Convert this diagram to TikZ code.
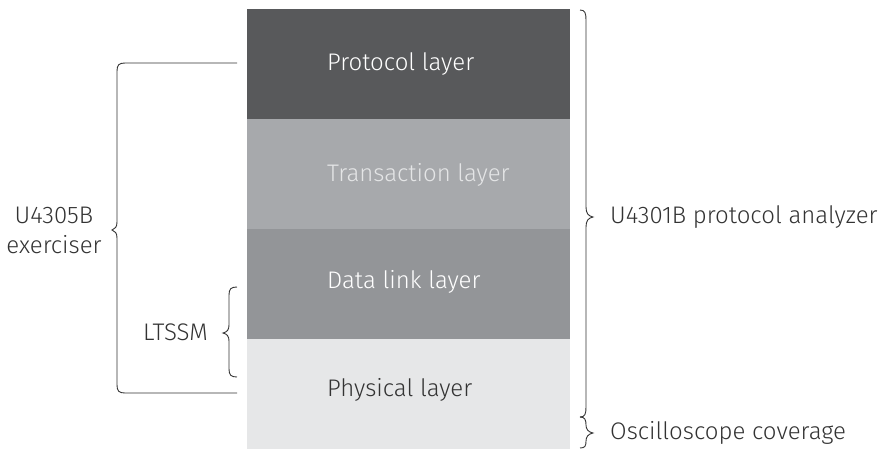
\documentclass[tikz,border=0pt]{standalone}
\usepackage{fontspec}
\setmainfont{Fira Sans}[UprightFont=* Light]
\begin{document}
\begin{tikzpicture}[x=1pt,y=-1pt,
  layer/.style={draw=none,minimum width=323pt,minimum height=110pt,inner sep=0pt,anchor=north west},
  ltext/.style={anchor=west,inner sep=0pt,font=\fontsize{24}{30}\selectfont},
  otext/.style={inner sep=0pt,font=\fontsize{24}{30}\selectfont,text=txt},
  br/.style={draw=txt,line width=0.9pt}]
\definecolor{c1}{HTML}{58595B}
\definecolor{c2}{HTML}{A7A9AC}
\definecolor{c3}{HTML}{939598}
\definecolor{c4}{HTML}{E6E7E8}
\definecolor{txt}{HTML}{333333}
\definecolor{t2}{HTML}{E4E5E6}
\useasboundingbox (0,0) rectangle (885,450);
\node[layer,fill=c1] (L1) at (247,9) {};
\node[layer,fill=c2] (L2) at (247,119) {};
\node[layer,fill=c3] (L3) at (247,229) {};
\node[layer,fill=c4] (L4) at (247,339) {};
\node[ltext,text=white] (T1) at (327,64) {Protocol layer};
\node[ltext,text=t2] (T2) at (327,175) {Transaction layer};
\node[ltext,text=white] (T3) at (327,282) {Data link layer};
\node[ltext,text=txt] (T4) at (327,390) {Physical layer};
% right braces
\draw[br] (580,10) .. controls (585,10) and (586,13) .. (586,20) -- (586,207)
  .. controls (586,213) and (588,216) .. (593,217)
  .. controls (588,218) and (586,221) .. (586,227) -- (586,407)
  .. controls (586,414) and (585,417) .. (580,417);
\draw[br] (580,417) .. controls (585,417) and (586,420) .. (586,425)
  .. controls (586,429) and (588,432) .. (593,433)
  .. controls (588,434) and (586,437) .. (586,441)
  .. controls (586,446) and (585,448) .. (580,448);
\node[otext,anchor=west] (A) at (610,217) {U4301B protocol analyzer};
\node[otext,anchor=west] (O) at (610,433) {Oscilloscope coverage};
% left big bracket
\draw[br] (237,63) -- (125,63) .. controls (119,63) and (117,65) .. (117,71) -- (117,222)
  .. controls (117,227) and (115,229) .. (112,230)
  .. controls (115,231) and (117,233) .. (117,238) -- (117,385)
  .. controls (117,391) and (119,393) .. (125,393) -- (237,393);
\node[otext,align=center] (E) at (54,230) {U4305B\\exerciser};
% LTSSM brace
\draw[br] (237,287) .. controls (231,287) and (229,289) .. (229,295) -- (229,325)
  .. controls (229,330) and (227,332) .. (223,333)
  .. controls (227,334) and (229,336) .. (229,341) -- (229,369)
  .. controls (229,375) and (231,377) .. (237,377);
\node[otext,anchor=east] (S) at (208,332) {LTSSM};
\end{tikzpicture}
\end{document}
